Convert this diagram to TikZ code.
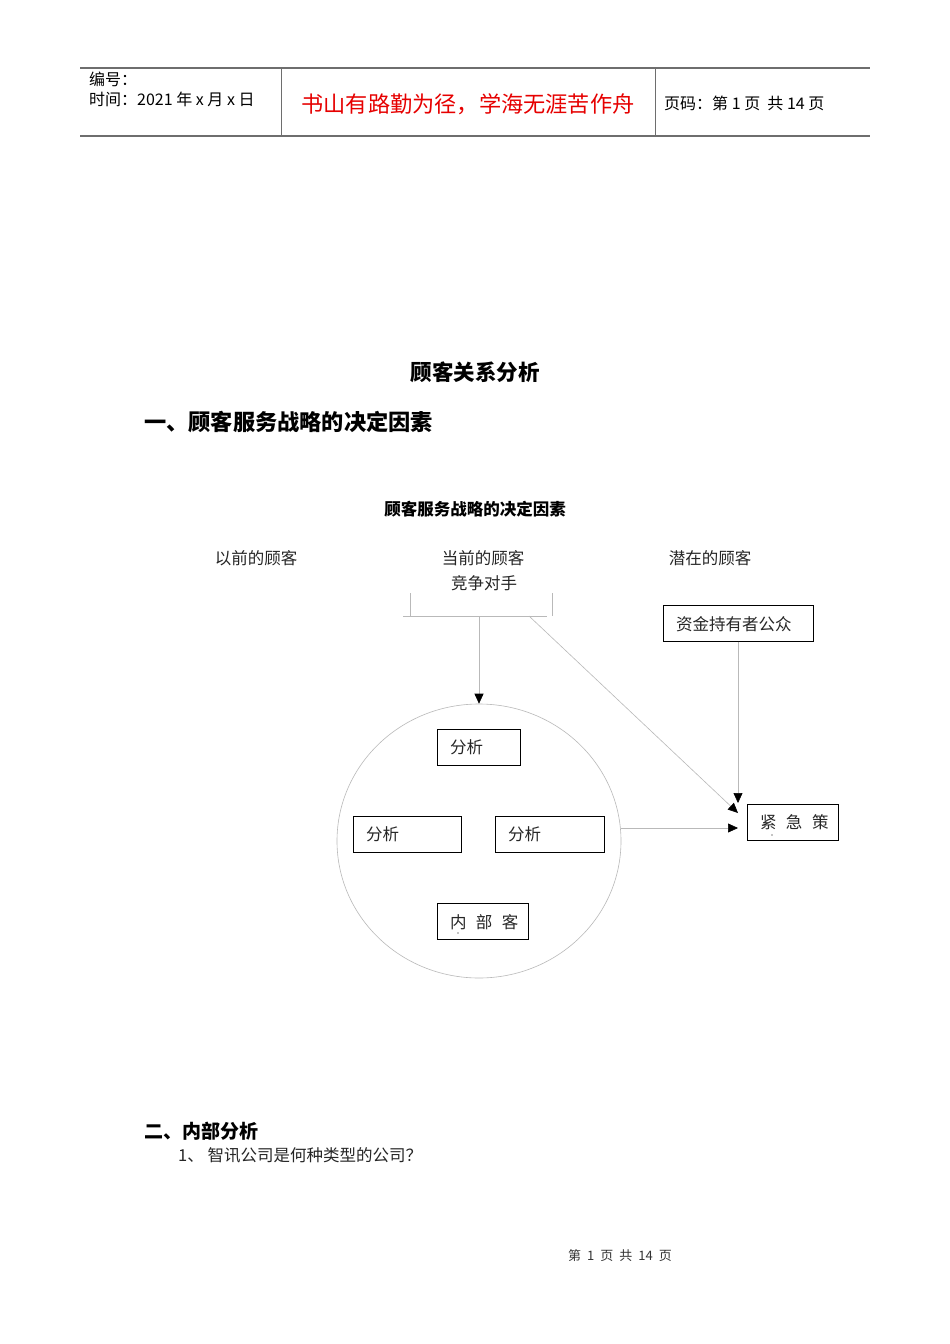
\documentclass[tikz,border=0pt]{standalone}
\usepackage{fontspec}
\setmainfont{Noto Sans CJK SC}
\newfontfamily\cjk{Noto Sans CJK SC}
\usetikzlibrary{arrows.meta,shapes.geometric}
\definecolor{hdrline}{RGB}{110,110,110}
\definecolor{thin}{RGB}{185,185,185}
\definecolor{redtxt}{RGB}{230,0,0}
\tikzset{
  every node/.style={inner sep=0pt, anchor=center},
  hdr/.style={draw=hdrline, line width=1.2pt},
  vsep/.style={draw=hdrline, line width=0.8pt},
  conn/.style={draw=thin, line width=0.6pt},
  arr/.style={conn, -{Triangle[length=10pt,width=9pt,fill=black,color=black]}},
  box/.style={draw=black, line width=1pt, minimum height=36pt, align=left, inner xsep=13pt, text depth=0pt},
  plain/.style={font=\fontsize{16.5}{18}\selectfont\cjk, text=black!85},
  hdrtxt/.style={font=\fontsize{16}{18}\selectfont, text=black, anchor=west},
}
\newcommand{\gp}{\hspace{9.5pt}}
\begin{document}
\begin{tikzpicture}[x=1pt,y=-1pt]
\useasboundingbox[fill=white] (0,0) rectangle (950,1344);
% header
\draw[hdr] (80,68) -- (870,68);
\draw[hdr] (80,136) -- (870,136);
\draw[vsep] (281,68) -- (281,136);
\draw[vsep] (655,68) -- (655,136);
\node[hdrtxt] (bh) at (89,79) {编号：};
\node[hdrtxt] (sj) at (89,99) {时间：2021 年 x 月 x 日};
\node[font=\fontsize{22.2}{24}\selectfont, text=redtxt] (motto) at (468,104) {书山有路勤为径，学海无涯苦作舟};
\node[hdrtxt] (ym) at (664,103) {页码：第 1 页 \ 共 14 页};
% titles
\node[font=\fontsize{21.5}{24}\selectfont\bfseries] (title) at (475,372) {顾客关系分析};
\node[font=\fontsize{22.2}{24}\selectfont\bfseries, anchor=west] (sec1) at (144,422) {一、顾客服务战略的决定因素};
\node[font=\fontsize{16.5}{18}\selectfont\bfseries] (sub) at (475,509) {顾客服务战略的决定因素};
% diagram labels
\node[plain] (prev) at (256,558) {以前的顾客};
\node[plain] (cur) at (483,558) {当前的顾客};
\node[plain] (comp) at (484,583) {竞争对手};
\node[plain] (pot) at (710,558) {潜在的顾客};
% bracket
\coordinate (bl) at (403,616);
\coordinate (br) at (547,616);
\coordinate (bm) at (479,616);
\coordinate (bd) at (529,616);
\draw[conn] (410,593) -- (410,616);
\draw[conn] (552,593) -- (552,616);
\draw[conn] (bl) -- (br);
% circle
\node[draw=thin, line width=0.6pt, ellipse, minimum width=284pt, minimum height=274pt] (circ) at (479,841) {};
\draw[arr] (bm) -- (circ.north);
% boxes
\node[box, minimum width=83pt, text width=57pt, plain] (a1) at (478.5,747) {分析};
\node[box, minimum width=108pt, text width=82pt, plain] (a2) at (407,834) {分析};
\node[box, minimum width=109pt, text width=83pt, plain] (a3) at (549.5,834) {分析};
\node[box, minimum width=91pt, text width=65pt, plain] (nb) at (482.5,921.5) {\mbox{内\gp 部\gp 客}};
\node[box, minimum width=150pt, text width=124pt, plain] (zj) at (738,623) {资金持有者公众};
\node[box, minimum width=91pt, text width=65pt, plain] (jj) at (792.5,822) {\mbox{紧\gp 急\gp 策}};
\fill (772,835) circle (0.7pt);
\fill (458,933) circle (0.6pt);
% connectors
\draw[arr] (bd) -- (738,813);
\draw[arr] (zj.south) -- (738,803);
\draw[arr] (circ.east |- 0,828) -- (738,828);
% section 2
\node[font=\fontsize{19}{21}\selectfont\bfseries, anchor=west] (sec2) at (144,1131) {二、内部分析};
\node[plain, anchor=west] (q1) at (178,1155) {1、 智讯公司是何种类型的公司？};
% footer
\node[font=\fontsize{13}{15}\selectfont, text=black!80] (foot) at (620,1256) {第\hspace{6pt}1\hspace{6pt}页\hspace{6pt}共\hspace{6pt}14\hspace{6pt}页};
\end{tikzpicture}
\end{document}
